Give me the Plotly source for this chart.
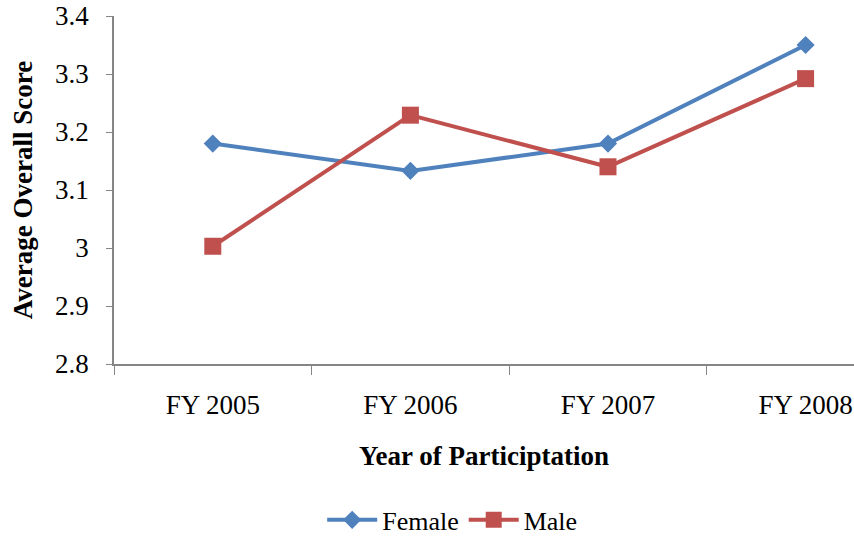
import plotly.graph_objects as go

categories = ["FY 2005", "FY 2006", "FY 2007", "FY 2008"]
female = [3.18, 3.133, 3.18, 3.35]
male = [3.003, 3.229, 3.14, 3.292]

FONT = "Liberation Serif"
AXIS = "#868686"

fig = go.Figure()
fig.add_trace(go.Scatter(x=categories, y=female, name="Female", mode="lines+markers",
                         line=dict(color="#4F81BD", width=4),
                         marker=dict(symbol="diamond", size=14, color="#4F81BD")))
fig.add_trace(go.Scatter(x=categories, y=male, name="Male", mode="lines+markers",
                         line=dict(color="#C0504D", width=4),
                         marker=dict(symbol="square", size=17, color="#C0504D")))

fig.update_layout(
    template="none",
    width=854, height=539,
    margin=dict(l=114, r=0, t=16, b=175, autoexpand=False),
    paper_bgcolor="white", plot_bgcolor="white",
    font=dict(family=FONT, color="black", size=26),
    showlegend=True,
    legend=dict(orientation="h", x=0.457, xanchor="center", y=-0.448, yanchor="middle",
                itemwidth=50, bgcolor="rgba(0,0,0,0)", borderwidth=0),
    xaxis=dict(type="category", range=[-0.5, 3.245], showline=True, linecolor=AXIS, linewidth=1.5,
               ticks="outside", tickson="boundaries", ticklen=9, tickcolor=AXIS,
               showgrid=False, zeroline=False, ticklabelstandoff=16, automargin=False,
               tickfont=dict(family=FONT, size=27, color="black"),
               title=dict(text="<b>Year of Participtation</b>", font=dict(family=FONT, size=27, color="black"), standoff=27)),
    yaxis=dict(range=[2.8, 3.4], tickvals=[2.8, 2.9, 3.0, 3.1, 3.2, 3.3, 3.4],
               ticktext=["2.8", "2.9", "3", "3.1", "3.2", "3.3", "3.4"],
               showline=True, linecolor=AXIS, linewidth=1.5, ticklabeloverflow="allow",
               ticks="outside", ticklen=6, tickcolor=AXIS, showgrid=False, zeroline=False,
               ticklabelstandoff=12, automargin=False,
               tickfont=dict(family=FONT, size=27, color="black"),
               title=dict(text="<b>Average Overall Score</b>", font=dict(family=FONT, size=27, color="black"), standoff=15)),
)
fig.update_layout(legend_font_family=FONT, legend_font_size=26, legend_font_color="black")

fig.write_html("out.html", config={"displayModeBar": False},
               post_script="document.body.style.margin='0';document.body.style.padding='0';")
